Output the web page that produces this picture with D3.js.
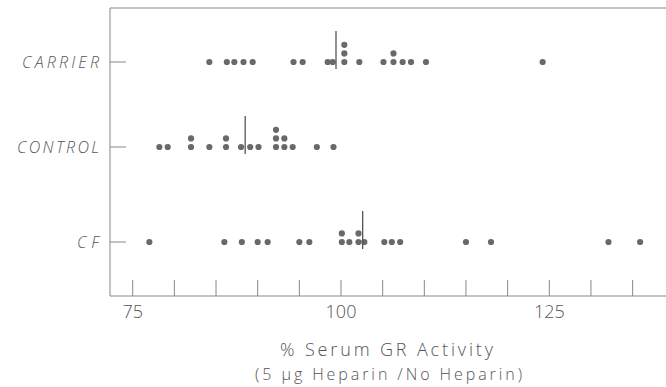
<!DOCTYPE html>
<html>
<head>
<meta charset="utf-8">
<script src="https://cdn.jsdelivr.net/npm/d3@7"></script>
<style>
  body { margin: 0; background: #fff; }
  svg { display: block; font-family: "Open Sans", sans-serif; }
</style>
</head>
<body>
<svg id="plot" width="666" height="387"></svg>
<script>
// groups, top to bottom
const groups = ["CARRIER", "CONTROL", "CF"];

// % serum GR activity, one dot per subject (repeats stack up)
const carrier = [84.2, 86.3, 87.2, 88.3, 89.4, 94.3, 95.4, 98.4, 99.0, 100.4, 100.4, 100.4,
                 102.2, 105.1, 106.3, 106.3, 107.4, 108.4, 110.2, 124.2];
const control = [78.2, 79.2, 82.0, 82.0, 84.2, 86.2, 86.2, 88.0, 89.1, 90.1, 92.2, 92.2, 92.2,
                 93.2, 93.2, 94.2, 97.1, 99.1];
const cf = [77.0, 86.0, 88.1, 90.0, 91.2, 95.0, 96.2, 100.1, 100.1, 101.0, 102.1, 102.1, 102.8,
            105.2, 106.1, 107.1, 115.0, 118.0, 132.1, 135.9];

// group medians (vertical bars)
const medians = [99.4, 88.5, 102.6];

const xTicks = [75, 80, 85, 90, 95, 100, 105, 110, 115, 120, 125, 130, 135];
const xLabels = [75, 100, 125];

const svg = d3.select("#plot");
const ink = "#555";
const dotCol = "#696969";
const lineCol = "#888";

const leftX = 110, topY = 8, bottomY = 296, rightX = 668;

const x = d3.scaleLinear().domain([75, 125]).range([132.7, 549.3]);
const y = d3.scaleOrdinal().domain(groups).range([62, 147, 242]);

const series = [carrier, control, cf];
// label widths as printed (wide-set lettering)
const labW = {CARRIER: 77, CONTROL: 82, CF: 22};

// frame
svg.append("path")
    .attr("d", `M${rightX},${topY}H${leftX}V${bottomY}H${rightX}`)
    .attr("fill", "none")
    .attr("stroke", lineCol)
    .attr("stroke-width", 1);

// bottom ticks pointing up into plot
svg.selectAll(".xtick")
    .data(xTicks)
    .enter().append("line")
        .attr("x1", d => x(d)).attr("x2", d => x(d))
        .attr("y1", bottomY).attr("y2", bottomY - 16)
        .attr("stroke", lineCol)
        .attr("stroke-width", 1);

svg.selectAll(".xlab")
    .data(xLabels)
    .enter().append("text")
        .attr("x", d => x(d))
        .attr("y", 318)
        .attr("text-anchor", "middle")
        .attr("font-size", "18px")
        .attr("font-weight", 300)
        .attr("fill", ink)
        .text(d => d);

// left ticks + italic labels
groups.forEach(function(g) {
    svg.append("line")
        .attr("x1", leftX).attr("x2", leftX + 16)
        .attr("y1", y(g)).attr("y2", y(g))
        .attr("stroke", lineCol);

    svg.append("text")
        .attr("x", 99 - labW[g])
        .attr("y", y(g))
        .attr("dy", "0.36em")
        .attr("font-size", "16px")
        .attr("font-style", "italic")
        .attr("font-weight", 300)
        .attr("textLength", labW[g])
        .attr("lengthAdjust", "spacing")
        .attr("fill", ink)
        .text(g);
});

// dots, repeated values stacked upward
series.forEach(function(vals, i) {
    const seen = new Map();
    const pts = vals.map(function(v) {
        const k = seen.get(v) || 0;
        seen.set(v, k + 1);
        return {v: v, k: k};
    });
    svg.selectAll(".dot" + i)
        .data(pts)
        .enter().append("circle")
            .attr("cx", d => x(d.v))
            .attr("cy", d => y(groups[i]) - d.k * 8.6)
            .attr("r", 3.1)
            .attr("fill", dotCol);
});

// median bars
medians.forEach(function(m, i) {
    svg.append("line")
        .attr("x1", x(m)).attr("x2", x(m))
        .attr("y1", y(groups[i]) - 31)
        .attr("y2", y(groups[i]) + 7)
        .attr("stroke", "#555")
        .attr("stroke-width", 1.3);
});

// axis title
svg.append("text")
    .attr("x", 280)
    .attr("y", 356)
    .attr("font-size", "18px")
    .attr("font-weight", 300)
    .attr("textLength", 213)
    .attr("lengthAdjust", "spacing")
    .attr("fill", ink)
    .text("% Serum GR Activity");

svg.append("text")
    .attr("x", 255)
    .attr("y", 380)
    .attr("font-size", "16px")
    .attr("font-weight", 300)
    .attr("textLength", 267)
    .attr("lengthAdjust", "spacing")
    .attr("fill", ink)
    .text("(5 µg Heparin /No Heparin)");
</script>
</body>
</html>
